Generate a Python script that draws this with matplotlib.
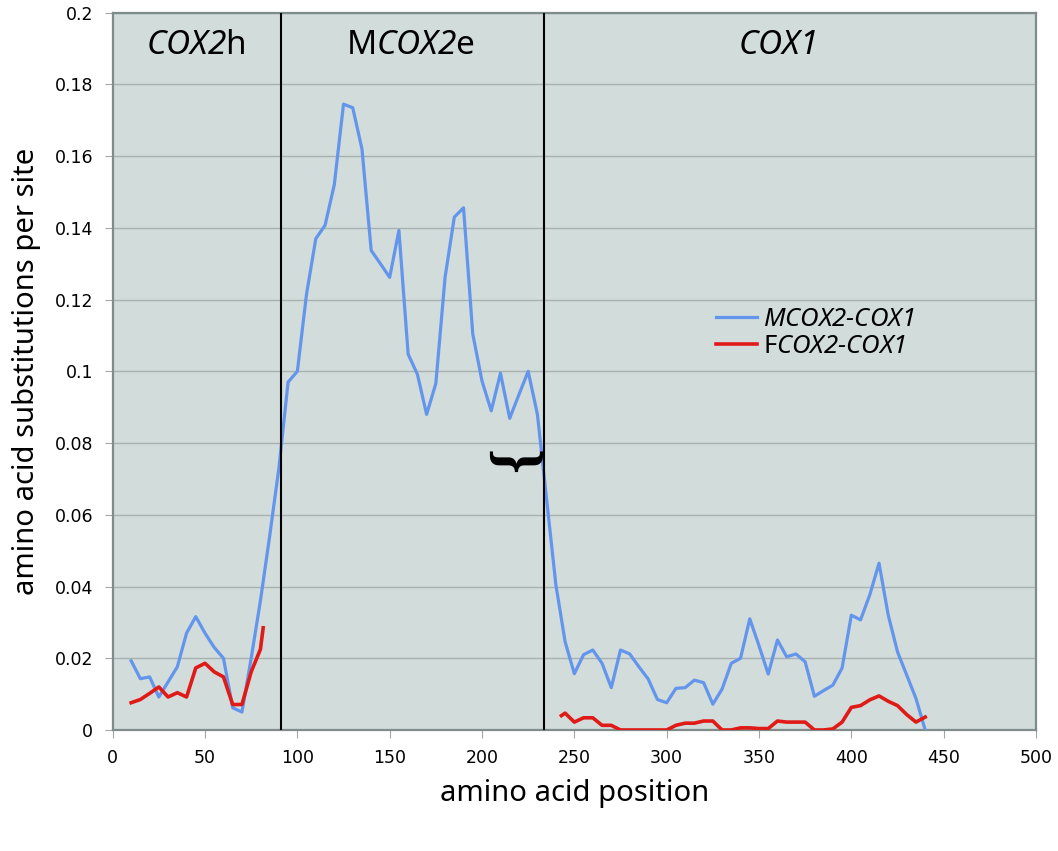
import numpy as np
import matplotlib.pyplot as plt

# "rm" en cursiva para que los digitos salgan inclinados; "sf" queda recto
plt.rcParams['mathtext.fontset'] = 'custom'
plt.rcParams['mathtext.rm'] = 'Noto Sans:italic'
plt.rcParams['mathtext.it'] = 'Noto Sans:italic'
plt.rcParams['mathtext.sf'] = 'Noto Sans'

# MCOX2-COX1 (azul)
m_pos = [10, 15, 20, 25, 30, 35, 40, 45, 50, 55, 60, 65, 70, 75, 80, 85, 90, 95,
         100, 105, 110, 115, 120, 125, 130, 135, 140, 145, 150, 155, 160, 165, 170,
         175, 180, 185, 190, 195, 200, 205, 210, 215, 220, 225, 230,
         240, 245, 250, 255, 260, 265, 270, 275, 280, 285, 290, 295, 300, 305, 310,
         315, 320, 325, 330, 335, 340, 345, 350, 355, 360, 365, 370, 375, 380, 385,
         390, 395, 400, 405, 410, 415, 420, 425, 430, 435, 440]
m_val = [0.0193, 0.0143, 0.0148, 0.0092, 0.0134, 0.0176, 0.027, 0.0316, 0.027, 0.023,
         0.020, 0.0062, 0.005, 0.020, 0.036, 0.054, 0.073, 0.097,
         0.100, 0.1216, 0.137, 0.1407, 0.152, 0.1745, 0.1735, 0.162, 0.1337, 0.130,
         0.1262, 0.1393, 0.1048, 0.0992, 0.088,
         0.0966, 0.1262, 0.143, 0.1456, 0.1104, 0.0973, 0.089, 0.0995, 0.0869, 0.0935,
         0.100, 0.088,
         0.0405, 0.0246, 0.0157, 0.021, 0.0223, 0.0186, 0.0118, 0.0223, 0.0212, 0.0176,
         0.0142, 0.0085, 0.0076, 0.0116, 0.0118,
         0.0139, 0.0132, 0.0072, 0.0114, 0.0186, 0.020, 0.031, 0.0235, 0.0156, 0.0251,
         0.0204, 0.0212, 0.019, 0.0094, 0.011,
         0.0125, 0.0173, 0.032, 0.0307, 0.0377, 0.0465, 0.032, 0.0218, 0.0153, 0.0088, 0.0]

# FCOX2-COX1 (rojo), dos tramos
f_pos1 = [10, 15, 20, 25, 30, 35, 40, 45, 50, 55, 60, 65, 70, 75, 80, 81.5]
f_val1 = [0.0076, 0.0085, 0.0102, 0.012, 0.0092, 0.0104, 0.0092, 0.0173, 0.0186, 0.0162,
          0.0148, 0.0071, 0.0071, 0.0162, 0.0225, 0.0285]
f_pos2 = [243, 245, 250, 255, 260, 265, 270, 275, 280, 285, 290, 295, 300, 305, 310,
          315, 320, 325, 330, 335, 340, 345, 350, 355, 360, 365, 370, 375, 380, 385,
          390, 395, 400, 405, 410, 415, 420, 425, 430, 435, 440]
f_val2 = [0.0040, 0.0047, 0.0022, 0.0034, 0.0034, 0.0013, 0.0013, 0.0, 0.0, 0.0,
          0.0, 0.0, 0.0, 0.0013, 0.0019,
          0.0019, 0.0025, 0.0025, 0.0, 0.0, 0.0006, 0.0006, 0.0004, 0.0004, 0.0025,
          0.0022, 0.0022, 0.0022, 0.0, 0.0,
          0.0003, 0.0022, 0.0063, 0.0068, 0.0084, 0.0095, 0.008, 0.0068, 0.0043, 0.0022, 0.0036]

limites = [91, 233.5]
regiones = [(45, r'$\mathrm{COX2}\mathsf{h}$'),
            (161, r'$\mathsf{M}\mathrm{COX2}\mathsf{e}$'),
            (360, r'$\mathrm{COX1}$')]

fig = plt.figure(figsize=(10.58, 8.51), dpi=100)
ax = fig.add_axes([0.1065, 0.1422, 0.8727, 0.8429])
ax.set_facecolor('#d1dcdb')

ax.plot(m_pos, m_val, color='#6495ed', lw=2.3, label='$\\mathrm{MCOX2\u2010COX1}$', zorder=3)
ax.plot(f_pos1, f_val1, color='#e01b17', lw=2.6, label='$\\mathsf{F}\\mathrm{COX2\u2010COX1}$', zorder=3)
ax.plot(f_pos2, f_val2, color='#e01b17', lw=2.6, zorder=3)

for xl in limites:
    ax.axvline(xl, color='black', lw=1.5, zorder=4)

for xr, txt in regiones:
    ax.text(xr, 0.191, txt, ha='center', va='center', fontsize=24)

ax.text(215.7, 0.0746, '}', rotation=-90, ha='center', va='center',
        fontsize=46, family='Liberation Serif', fontweight='bold',
        color='black', zorder=5)

ax.set_xlim(0, 500)
ax.set_ylim(0, 0.2)
ax.set_xticks(np.arange(0, 501, 50))
ax.set_yticks(np.arange(0, 0.201, 0.02))
ax.set_yticklabels(['0', '0.02', '0.04', '0.06', '0.08', '0.1', '0.12', '0.14',
                    '0.16', '0.18', '0.2'])
ax.tick_params(labelsize=12.5, color='#a0a8a7', length=6, pad=8)
ax.grid(axis='y', color='#a9b2b1', lw=1)
ax.set_axisbelow(True)
for s in ax.spines.values():
    s.set_color('#7f8c8a')
    s.set_linewidth(1.6)

ax.set_xlabel('amino acid position', fontsize=21, family='Noto Sans', labelpad=8)
ax.set_ylabel('amino acid substitutions per site', fontsize=21, family='Noto Sans', labelpad=10)

ax.legend(loc='upper left', bbox_to_anchor=(0.642, 0.606), frameon=False,
          fontsize=18.5, handlelength=1.6, handletextpad=0.25, labelspacing=0.05,
          borderaxespad=0)

plt.savefig('out.png', dpi=100)
